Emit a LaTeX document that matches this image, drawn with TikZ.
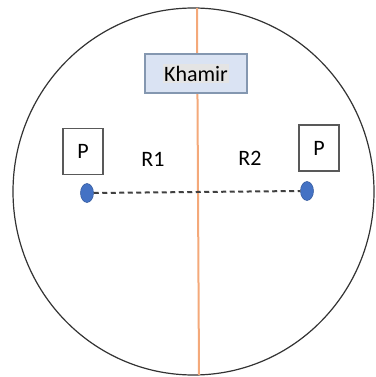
\documentclass[tikz,border=0pt]{standalone}
\usepackage{fontspec}
\setmainfont{Carlito}
\definecolor{linecol}{HTML}{F4A97A}
\definecolor{boxfill}{HTML}{DAE3F3}
\definecolor{boxdraw}{HTML}{8497B0}
\definecolor{dotcol}{HTML}{4472C4}
\definecolor{hl}{HTML}{E4E4E4}
\tikzset{
  pbox/.style={draw=black!65, line width=1.5pt, minimum width=40pt, minimum height=46pt, inner sep=0pt, font=\fontsize{22}{26}\selectfont},
  dot/.style={ellipse, fill=dotcol, draw=dotcol!80!black, line width=0.5pt, minimum width=13pt, minimum height=19pt, inner sep=0pt},
  lbl/.style={font=\fontsize{22}{26}\selectfont, inner sep=0pt},
}
\usetikzlibrary{shapes.geometric}
\begin{document}
\begin{tikzpicture}[x=1pt,y=-1pt]
\useasboundingbox (0,0) rectangle (375,377);
\node[draw=black!80, line width=1.2pt, ellipse, minimum width=361pt, minimum height=367pt, inner sep=0pt] (circ) at (193.5,191.5) {};
\coordinate (ltop) at (197,8);
\coordinate (lbot) at (199,375);
\draw[linecol, line width=2pt] (ltop) -- (lbot);
\node[draw=boxdraw, fill=boxfill, line width=1.5pt, minimum width=102pt, minimum height=39pt, inner sep=0pt] (kbox) at (196,73.5) {};
\node[fill=hl, lbl, inner xsep=1.5pt, inner ysep=1.5pt] (ktext) at (kbox.center) {Khamir};
\node[pbox] (p1) at (83,151.5) {P};
\node[pbox] (p2) at (319,148) {P};
\node[dot] (d1) at (87,193) {};
\node[dot] (d2) at (307,191) {};
\draw[black!75, line width=2pt, dash pattern=on 5pt off 3.5pt] (d1.east) -- (d2.west);
\node[lbl] (r1) at (153,159) {R1};
\node[lbl] (r2) at (250,158) {R2};
\end{tikzpicture}
\end{document}
